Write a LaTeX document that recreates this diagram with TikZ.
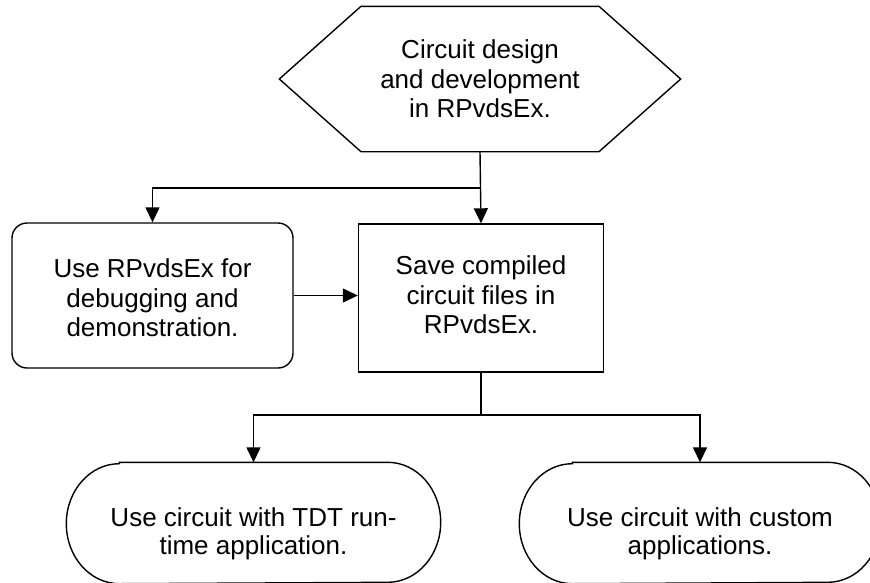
\documentclass[tikz,border=0pt]{standalone}
\usepackage{fontspec}
\setmainfont{Liberation Sans}
\usetikzlibrary{arrows.meta}
\begin{document}
\begin{tikzpicture}[x=1pt,y=-1pt,line width=1.4pt,
  txt/.style={align=center,font=\fontsize{26}{29.5}\selectfont,inner sep=0pt},
  conn/.style={-{Triangle[width=14pt,length=15pt]}},
  stad/.style={minimum height=120pt,inner sep=0pt}]
\useasboundingbox (0,0) rectangle (870,582);
\clip (0,0) rectangle (870,582);
% hexagon
\node[txt,minimum width=400pt,minimum height=144pt] (design) at (480,79) {Circuit design\\and development\\in RPvdsEx.};
\draw (design.west) -- ([xshift=-119pt]design.north) -- ([xshift=119pt]design.north) -- (design.east)
  -- ([xshift=119pt]design.south) -- ([xshift=-119pt]design.south) -- cycle;
% boxes
\node[draw,rounded corners=15pt,minimum width=281pt,minimum height=145pt,inner sep=0pt] (debug) at (152.5,295.5) {};
\node[txt] (debuglabel) at (152.5,298) {Use RPvdsEx for\\debugging and\\demonstration.};
\node[draw,minimum width=245pt,minimum height=148pt,inner sep=0pt] (save) at (481,298) {};
\node[txt] (savelabel) at (481,295) {Save compiled\\circuit files in\\RPvdsEx.};
% stadiums
\node[stad,minimum width=373pt] (tdt) at (253.5,523) {};
\node[stad,minimum width=360pt] (custom) at (700,523) {};
\foreach \n in {tdt,custom}{
  \draw ([xshift=53pt]\n.north west) -- ([xshift=-53pt]\n.north east)
    arc[start angle=90,end angle=-90,x radius=53pt,y radius=60pt]
    -- ([xshift=53pt]\n.south west)
    arc[start angle=270,end angle=90,x radius=53pt,y radius=60pt] -- cycle;
}
\node[txt,font=\fontsize{26}{28.5}\selectfont] (tdtlabel) at (253.5,534) {Use circuit with TDT run-\\time application.};
\node[txt,font=\fontsize{26}{28.5}\selectfont] (customlabel) at (700,534) {Use circuit with custom\\applications.};
% connectors
\coordinate (split1) at (481,188);
\coordinate (split2) at (481,415);
\draw[conn] (design.south) -- (save.north);
\draw[conn] (split1) -| (debug.north);
\draw[conn] (debug.east) -- (debug.east -| save.west);
\draw (save.south) -- (split2);
\draw[conn] (split2) -| (tdt.north);
\draw[conn] (split2) -| (custom.north);
\end{tikzpicture}
\end{document}
